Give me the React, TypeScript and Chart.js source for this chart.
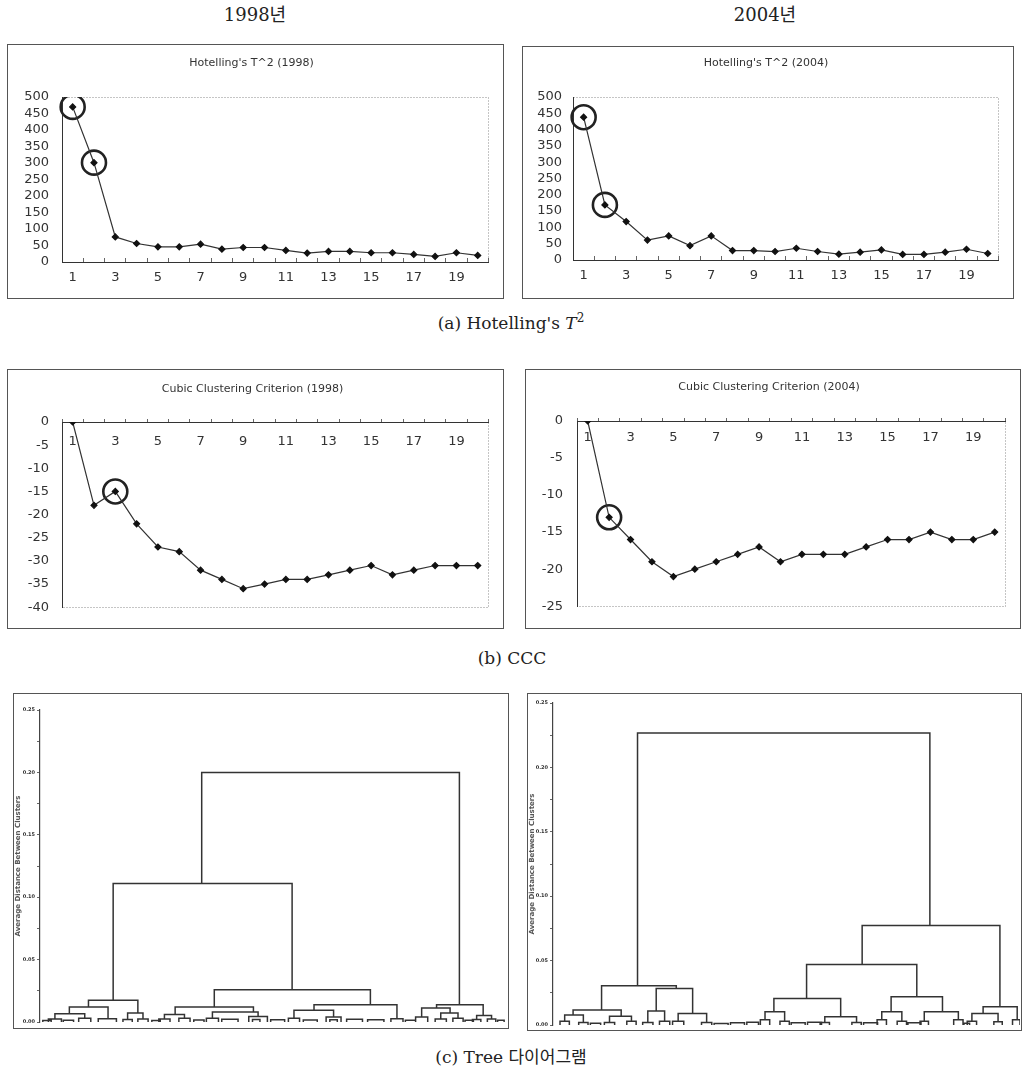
import React, { useEffect, useRef } from 'react';
import { Chart, registerables } from 'chart.js';

Chart.register(...registerables);

const CHART_FONT = "'DejaVu Sans', 'Liberation Sans', sans-serif";
const SERIF = "'DejaVu Serif', 'Liberation Serif', 'Noto Sans CJK KR', serif";

// ---------- data ----------
const clusterCounts = [1, 2, 3, 4, 5, 6, 7, 8, 9, 10, 11, 12, 13, 14, 15, 16, 17, 18, 19, 20];

const hotelling1998 = [470, 301, 76, 56, 46, 46, 54, 39, 44, 44, 35, 27, 32, 32, 28, 28, 23, 17, 28, 20];
const hotelling2004 = [438, 169, 118, 61, 74, 44, 74, 29, 29, 26, 36, 26, 18, 24, 31, 17, 17, 24, 33, 20];
const ccc1998 = [0, -18, -15, -22, -27, -28, -32, -34, -36, -35, -34, -34, -33, -32, -31, -33, -32, -31, -31, -31];
const ccc2004 = [0, -13, -16, -19, -21, -20, -19, -18, -17, -19, -18, -18, -18, -17, -16, -16, -15, -16, -16, -15];

// cluster numbers circled in each panel
const hotellingMarked1998 = [1, 2];
const hotellingMarked2004 = [1, 2];
const cccMarked1998 = [3];
const cccMarked2004 = [2];

const hotellingTitle1998 = "Hotelling's T^2 (1998)";
const hotellingTitle2004 = "Hotelling's T^2 (2004)";
const cccTitle1998 = 'Cubic Clustering Criterion (1998)';
const cccTitle2004 = 'Cubic Clustering Criterion (2004)';

const treeAxisTitle = 'Average Distance Between Clusters';

// dendrogram merges: [left leaf pos, right leaf pos, merge height, left child height, right child height]
const tree1998Merges = [
  [34.7, 90.0, 0.2, 0.111, 0.0139],
  [15.7, 54.1, 0.111, 0.0174, 0.0259],
  [10.4, 21.0, 0.0174, 0.012, 0.0072],
  [6.3, 14.6, 0.012, 0.0067, 0.0027],
  [3.2, 9.6, 0.0067, 0.0025, 0.003],
  [18.8, 22.1, 0.0072, 0.002, 0.0025],
  [37.4, 70.9, 0.0259, 0.012, 0.0139],
  [29.0, 45.8, 0.012, 0.006, 0.008],
  [26.7, 31.0, 0.006, 0.0025, 0.003],
  [37.0, 46.8, 0.008, 0.003, 0.0045],
  [58.8, 76.6, 0.0139, 0.0094, 0.0027],
  [54.5, 63.0, 0.0094, 0.003, 0.004],
  [85.1, 95.1, 0.0139, 0.0112, 0.0053],
  [81.9, 88.0, 0.0112, 0.004, 0.0072],
  [86.0, 89.7, 0.0072, 0.0025, 0.003],
  [93.7, 96.9, 0.0053, 0.002, 0.0025],
];
// small merges of leaves: [left, right, height]
const tree1998Leaves = [
  [1.8, 4.6, 0.0025], [0.6, 2.4, 0.0012], [8.3, 10.9, 0.003], [5.0, 7.2, 0.0015],
  [12.5, 16.4, 0.0027], [17.8, 19.8, 0.002], [21.0, 23.2, 0.0025], [24.0, 25.8, 0.0012],
  [25.5, 27.9, 0.0025], [29.8, 32.2, 0.003], [33.0, 35.2, 0.0016], [35.7, 38.3, 0.003],
  [39.0, 42.5, 0.0022], [44.8, 48.8, 0.0045], [45.6, 47.2, 0.002], [49.5, 52.5, 0.0018],
  [53.3, 55.7, 0.003], [56.5, 59.5, 0.0016], [61.4, 64.6, 0.004], [62.2, 63.8, 0.0018],
  [65.8, 69.2, 0.0022], [70.3, 73.8, 0.0018], [75.3, 77.9, 0.0027], [78.4, 80.6, 0.0014],
  [80.6, 83.2, 0.004], [84.8, 87.2, 0.0025], [88.6, 90.8, 0.003], [91.2, 93.0, 0.0014],
  [92.8, 94.6, 0.002], [96.0, 97.8, 0.0025], [98.2, 99.6, 0.0015],
];

const tree2004Merges = [
  [18.1, 80.7, 0.2268, 0.0304, 0.0773],
  [10.4, 26.4, 0.0304, 0.0116, 0.0283],
  [4.3, 14.6, 0.0116, 0.0077, 0.0067],
  [2.5, 6.5, 0.0077, 0.003, 0.002],
  [12.1, 16.8, 0.0067, 0.002, 0.003],
  [22.1, 29.9, 0.0283, 0.0108, 0.009],
  [20.3, 23.9, 0.0108, 0.002, 0.003],
  [26.8, 32.9, 0.009, 0.003, 0.002],
  [66.2, 95.7, 0.0773, 0.0469, 0.0142],
  [54.3, 77.9, 0.0469, 0.0206, 0.0219],
  [47.3, 61.6, 0.0206, 0.0103, 0.0064],
  [45.4, 49.6, 0.0103, 0.004, 0.003],
  [58.2, 65.0, 0.0064, 0.002, 0.002],
  [72.4, 83.4, 0.0219, 0.0103, 0.0103],
  [70.4, 74.7, 0.0103, 0.004, 0.003],
  [79.5, 86.8, 0.0103, 0.003, 0.004],
  [92.1, 99.4, 0.0142, 0.009, 0.004],
  [89.7, 95.3, 0.009, 0.003, 0.0025],
];
const tree2004Leaves = [
  [1.5, 3.5, 0.003], [5.5, 7.5, 0.002], [8.0, 10.2, 0.0014], [11.0, 13.2, 0.002],
  [15.8, 17.8, 0.003], [19.2, 21.4, 0.002], [22.8, 25.0, 0.003], [25.6, 28.0, 0.003],
  [31.8, 34.0, 0.002], [34.5, 37.5, 0.0012], [38.0, 41.0, 0.0018], [41.5, 44.0, 0.0022],
  [44.4, 46.4, 0.004], [48.6, 50.6, 0.003], [51.0, 54.0, 0.0018], [54.5, 57.5, 0.0022],
  [57.2, 59.2, 0.002], [64.0, 66.0, 0.002], [66.5, 69.5, 0.0018], [69.4, 71.4, 0.004],
  [73.7, 75.7, 0.003], [76.0, 78.8, 0.0018], [78.6, 80.4, 0.003], [85.8, 87.8, 0.004],
  [88.0, 89.2, 0.0014], [88.7, 90.7, 0.003], [94.4, 96.2, 0.0025], [98.4, 100, 0.004],
];

// ---------- helpers ----------
const framePlugin = {
  id: 'dottedFrame',
  beforeDraw(chart: any) {
    const { ctx, chartArea: a } = chart;
    ctx.save();
    ctx.strokeStyle = '#8a8a8a';
    ctx.lineWidth = 1;
    ctx.setLineDash([1, 2]);
    ctx.strokeRect(Math.round(a.left) + 0.5, Math.round(a.top) + 0.5, Math.round(a.width), Math.round(a.height));
    ctx.restore();
  },
};

function seriesConfig(p: any) {
  const marks = clusterCounts.map((c, i) => (p.marked.includes(c) ? p.values[i] : null));
  return {
    type: 'line',
    data: {
      labels: clusterCounts.map(String),
      datasets: [
        {
          data: p.values,
          borderColor: '#333',
          borderWidth: 1.2,
          pointStyle: 'rectRot',
          pointRadius: 3,
          pointBackgroundColor: '#111',
          pointBorderColor: '#111',
          tension: 0,
        },
        {
          data: marks,
          showLine: false,
          pointStyle: 'circle',
          pointRadius: 12,
          pointBorderWidth: 2.6,
          pointBorderColor: '#222',
          pointBackgroundColor: 'rgba(0,0,0,0)',
        },
      ],
    },
    options: {
      responsive: false,
      animation: false,
      events: [],
      layout: { padding: { left: 0, right: p.padRight, top: 0, bottom: p.padBottom } },
      plugins: {
        legend: { display: false },
        tooltip: { enabled: false },
        title: {
          display: true,
          text: p.title,
          color: '#333',
          font: { size: 11, weight: 'normal', family: CHART_FONT, lineHeight: 1.2 },
          padding: { top: p.titleTop, bottom: p.titleBottom },
        },
      },
      scales: {
        x: {
          type: 'category',
          offset: true,
          position: p.xAtZero ? { y: 0 } : 'bottom',
          afterFit: (s: any) => { s.height = p.xHeight; },
          grid: { display: true, drawOnChartArea: false, drawTicks: true, tickLength: -4, offset: true, color: '#666' },
          border: { display: true, color: '#333', width: 1 },
          ticks: {
            autoSkip: false,
            maxRotation: 0,
            padding: p.xPad,
            color: '#333',
            font: { size: 13, family: CHART_FONT },
            callback: function (this: any, v: any, i: number) {
              return i % 2 === 0 ? this.getLabelForValue(v) : '';
            },
          },
        },
        y: {
          min: p.yMin,
          max: p.yMax,
          afterFit: (s: any) => { s.width = p.yWidth; },
          grid: { display: false, drawTicks: false, tickLength: 0 },
          border: { display: true, color: '#333', width: 1 },
          ticks: { stepSize: p.yStep, autoSkip: false, padding: p.yPad, color: '#333', font: { size: 13, family: CHART_FONT } },
        },
      },
    },
    plugins: [framePlugin],
  };
}

function dendroPoints(merges: number[][], leaves: number[][]) {
  const pts: any[] = [];
  for (const [xl, xr, h, hl, hr] of merges) {
    pts.push({ x: xl, y: hl }, { x: xl, y: h }, { x: xr, y: h }, { x: xr, y: hr }, { x: xr, y: null });
  }
  for (const [xl, xr, h] of leaves) {
    pts.push({ x: xl, y: 0 }, { x: xl, y: h }, { x: xr, y: h }, { x: xr, y: 0 }, { x: xr, y: null });
  }
  return pts;
}

function treeConfig(p: any) {
  return {
    type: 'line',
    data: {
      datasets: [
        {
          data: dendroPoints(p.merges, p.leaves),
          borderColor: '#333',
          borderWidth: 1.5,
          pointRadius: 0,
          spanGaps: false,
          tension: 0,
        },
      ],
    },
    options: {
      responsive: false,
      animation: false,
      events: [],
      layout: { padding: { left: 0, right: p.padRight, top: p.padTop, bottom: p.padBottom } },
      plugins: { legend: { display: false }, tooltip: { enabled: false } },
      scales: {
        x: { type: 'linear', min: 0, max: 100, display: false },
        y: {
          type: 'linear',
          min: 0,
          max: 0.25,
          afterFit: (s: any) => { s.width = p.yWidth; },
          border: { display: true, color: '#444', width: 1.2 },
          grid: { display: true, drawOnChartArea: false, drawTicks: true, tickLength: 3, color: '#666' },
          ticks: {
            stepSize: 0.025,
            autoSkip: false,
            padding: 2,
            color: '#333',
            font: { size: 5, family: CHART_FONT, weight: 'bold' },
            callback: (v: any, i: number) => (i % 2 === 0 ? Number(v).toFixed(2) : ''),
          },
          title: {
            display: true,
            text: treeAxisTitle,
            color: '#555',
            font: { size: 7, family: CHART_FONT, weight: 'bold' },
            padding: 0,
          },
        },
      },
    },
  };
}

function Panel(props: { left: number; top: number; width: number; height: number; make: () => any }) {
  const ref = useRef<HTMLCanvasElement | null>(null);
  useEffect(() => {
    const chart = new Chart(ref.current as HTMLCanvasElement, props.make());
    return () => chart.destroy();
  }, []);
  return (
    <div
      style={{
        position: 'absolute',
        left: props.left,
        top: props.top,
        width: props.width,
        height: props.height,
        border: '1px solid #555',
        boxSizing: 'border-box',
      }}
    >
      <canvas ref={ref} width={props.width - 2} height={props.height - 2} style={{ display: 'block' }} />
    </div>
  );
}

const textBase: React.CSSProperties = {
  position: 'absolute',
  fontFamily: SERIF,
  color: '#222',
  textAlign: 'center',
  whiteSpace: 'nowrap',
};

export default function App() {
  return (
    <div style={{ position: 'absolute', left: 0, top: 0, width: 1022, height: 1075, background: '#fff', overflow: 'hidden' }}>
      <div style={{ ...textBase, left: 155, width: 200, top: 4, fontSize: 18, lineHeight: '22px' }}>1998년</div>
      <div style={{ ...textBase, left: 665, width: 200, top: 4, fontSize: 18, lineHeight: '22px' }}>2004년</div>

      <Panel
        left={7}
        top={44}
        width={497}
        height={255}
        make={() =>
          seriesConfig({
            title: hotellingTitle1998, values: hotelling1998, marked: hotellingMarked1998,
            yMin: 0, yMax: 500, yStep: 50, xAtZero: false,
            yWidth: 54, xHeight: 36, padRight: 8, padBottom: 0, titleTop: 11.4, titleBottom: 27.4, yPad: 13, xPad: 12,
          })
        }
      />
      <Panel
        left={522}
        top={46}
        width={492}
        height={253}
        make={() =>
          seriesConfig({
            title: hotellingTitle2004, values: hotelling2004, marked: hotellingMarked2004,
            yMin: 0, yMax: 500, yStep: 50, xAtZero: false,
            yWidth: 50, xHeight: 38, padRight: 4, padBottom: 0, titleTop: 9.4, titleBottom: 27.4, yPad: 11, xPad: 12,
          })
        }
      />

      <div style={{ ...textBase, left: 311, width: 400, top: 312, fontSize: 17, lineHeight: '22px' }}>
        (a) Hotelling's <i>T</i>
        <span style={{ fontSize: 12, position: 'relative', top: -7 }}>2</span>
      </div>

      <Panel
        left={7}
        top={369}
        width={497}
        height={260}
        make={() =>
          seriesConfig({
            title: cccTitle1998, values: ccc1998, marked: cccMarked1998,
            yMin: -40, yMax: 0, yStep: 5, xAtZero: true,
            yWidth: 54, xHeight: 0, padRight: 6, padBottom: 20, titleTop: 12.4, titleBottom: 26.4, yPad: 13, xPad: 16,
          })
        }
      />
      <Panel
        left={525}
        top={369}
        width={496}
        height={260}
        make={() =>
          seriesConfig({
            title: cccTitle2004, values: ccc2004, marked: cccMarked2004,
            yMin: -25, yMax: 0, yStep: 5, xAtZero: true,
            yWidth: 51, xHeight: 0, padRight: 8, padBottom: 21, titleTop: 10.4, titleBottom: 27.4, yPad: 14, xPad: 13,
          })
        }
      />

      <div style={{ ...textBase, left: 312, width: 400, top: 647, fontSize: 17, lineHeight: '22px' }}>(b) CCC</div>

      <Panel
        left={13}
        top={693}
        width={496}
        height={336}
        make={() =>
          treeConfig({ merges: tree1998Merges, leaves: tree1998Leaves, yWidth: 26, padTop: 16, padBottom: 6, padRight: 2 })
        }
      />
      <Panel
        left={527}
        top={693}
        width={495}
        height={338}
        make={() =>
          treeConfig({ merges: tree2004Merges, leaves: tree2004Leaves, yWidth: 25, padTop: 9, padBottom: 3, padRight: 1 })
        }
      />

      <div style={{ ...textBase, left: 311, width: 400, top: 1046, fontSize: 17, lineHeight: '22px' }}>(c) Tree 다이어그램</div>
    </div>
  );
}
